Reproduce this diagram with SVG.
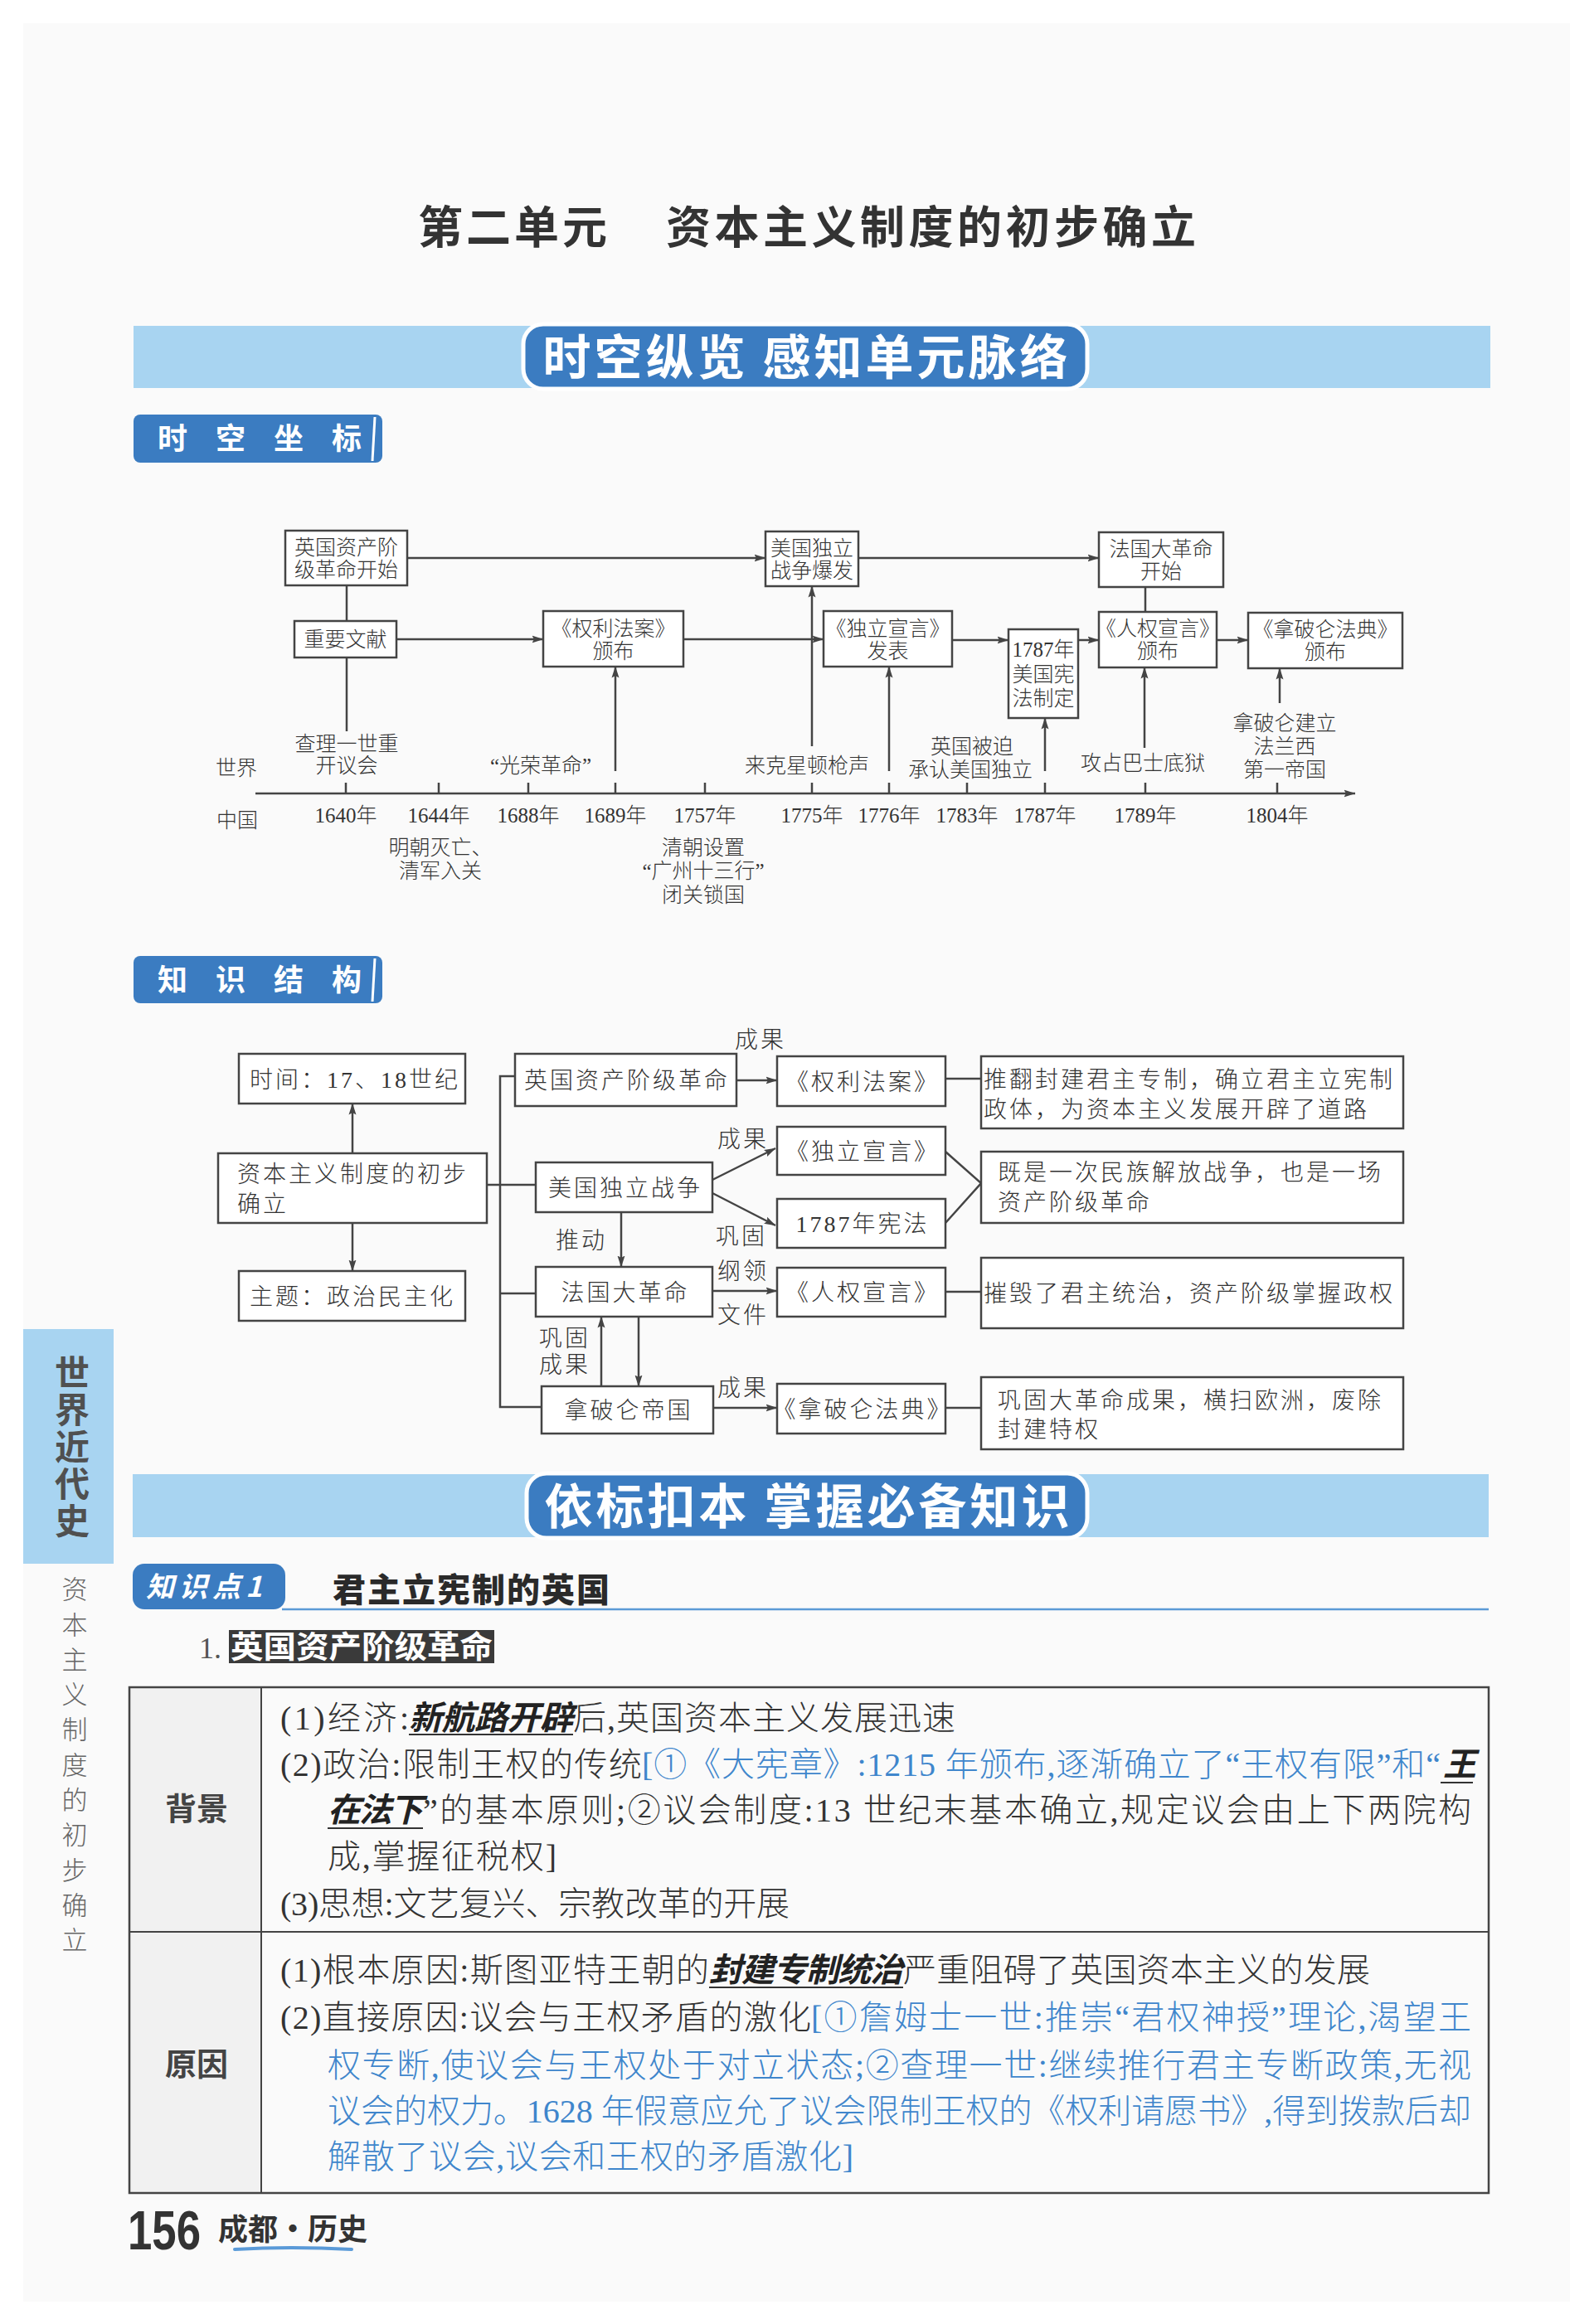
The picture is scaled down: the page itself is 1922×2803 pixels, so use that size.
<svg xmlns="http://www.w3.org/2000/svg" width="1922" height="2803" viewBox="0 0 1922 2803">
<defs>
<style>
.s{font-family:'Liberation Serif','Noto Sans CJK SC',serif;fill:#333;font-weight:300}
.h{font-family:'Noto Sans CJK SC','Liberation Sans',sans-serif}
.tl{font-size:25px;text-anchor:middle}
.ks{font-size:28px;letter-spacing:3px}
.kc{font-size:28px;letter-spacing:3px;text-anchor:middle}
.bd{font-size:40px}
.bl{fill:#3f86cc}
.em{font-weight:bold;fill:#222}
.box{fill:#fff;stroke:#444;stroke-width:2.5}
.ln{fill:none;stroke:#444;stroke-width:2.5}
.ul{fill:none;stroke:#333;stroke-width:2}
.strip{fill:#a8d4f1}
.tab{fill:#3b7cc1}
.wt{fill:#fff;font-weight:bold}
</style>
<marker id="ah" markerWidth="14" markerHeight="10" refX="13.5" refY="5" orient="auto" markerUnits="userSpaceOnUse">
<path d="M0,0.5 L14,5 L0,9.5 L2.5,5 z" fill="#444"/>
</marker>
</defs>

<rect x="0" y="0" width="1922" height="2803" fill="#ffffff"/>
<rect x="28" y="28" width="1865" height="2748" fill="#fafafa"/>

<!-- Title -->
<g id="title">
<text class="h" x="504" y="294" font-size="54" font-weight="bold" letter-spacing="4" fill="#333">第二单元</text>
<text class="h" x="803" y="294" font-size="54" font-weight="bold" letter-spacing="4.5" fill="#333">资本主义制度的初步确立</text>
</g>

<!-- Banner 1 -->
<g id="banner1">
<rect class="strip" x="161" y="393" width="1636" height="75"/>
<rect class="tab" x="631" y="391" width="680" height="78" rx="24" stroke="#fff" stroke-width="5"/>
<text class="h wt" x="973" y="452" font-size="58" text-anchor="middle" letter-spacing="4">时空纵览 感知单元脉络</text>
</g>

<g id="label-shikong">
<rect class="tab" x="161" y="500" width="300" height="58" rx="8"/>
<line x1="452" y1="503" x2="449" y2="556" stroke="#fff" stroke-width="3"/>
<text class="h wt" x="190" y="542" font-size="36" letter-spacing="34">时空坐标</text>
</g>

<!-- Timeline connectors -->
<g id="timeline-connectors">
<line class="ln" x1="308" y1="957" x2="1634" y2="957" marker-end="url(#ah)"/>
<path class="ln" d="M417,944V957 M529,944V957 M637,944V957 M742,944V957 M850,944V957 M979,944V957 M1072,944V957 M1166,944V957 M1260,944V957 M1381,944V957 M1540,944V957"/>
<line class="ln" x1="491" y1="673" x2="923" y2="673" marker-end="url(#ah)"/>
<line class="ln" x1="1035" y1="673" x2="1325" y2="673" marker-end="url(#ah)"/>
<line class="ln" x1="478" y1="771" x2="655" y2="771" marker-end="url(#ah)"/>
<line class="ln" x1="824" y1="771" x2="993" y2="771" marker-end="url(#ah)"/>
<line class="ln" x1="1148" y1="772" x2="1216" y2="772" marker-end="url(#ah)"/>
<line class="ln" x1="1300" y1="772" x2="1325" y2="772" marker-end="url(#ah)"/>
<line class="ln" x1="1467" y1="772" x2="1505" y2="772" marker-end="url(#ah)"/>
<line class="ln" x1="418" y1="706" x2="418" y2="749"/>
<line class="ln" x1="418" y1="793" x2="418" y2="882"/>
<line class="ln" x1="1381" y1="708" x2="1381" y2="738"/>
<line class="ln" x1="742" y1="930" x2="742" y2="804" marker-end="url(#ah)"/>
<line class="ln" x1="979" y1="900" x2="979" y2="707" marker-end="url(#ah)"/>
<line class="ln" x1="1072" y1="930" x2="1072" y2="804" marker-end="url(#ah)"/>
<line class="ln" x1="1260" y1="930" x2="1260" y2="866" marker-end="url(#ah)"/>
<line class="ln" x1="1380" y1="902" x2="1380" y2="805" marker-end="url(#ah)"/>
<line class="ln" x1="1543" y1="848" x2="1543" y2="806" marker-end="url(#ah)"/>
</g>

<!-- Timeline nodes -->
<g id="tl-eng-rev">
<rect class="box" x="344" y="640" width="147" height="66"/>
<text class="s tl" x="417.5" y="669">英国资产阶</text>
<text class="s tl" x="417.5" y="696">级革命开始</text>
</g>
<g id="tl-us-war">
<rect class="box" x="923" y="641" width="112" height="66"/>
<text class="s tl" x="979" y="670">美国独立</text>
<text class="s tl" x="979" y="697">战争爆发</text>
</g>
<g id="tl-fr-rev">
<rect class="box" x="1325" y="642" width="150" height="66"/>
<text class="s tl" x="1400" y="671">法国大革命</text>
<text class="s tl" x="1400" y="698">开始</text>
</g>
<g id="tl-docs">
<rect class="box" x="355" y="749" width="123" height="44"/>
<text class="s tl" x="416.5" y="780">重要文献</text>
</g>
<g id="tl-bill">
<rect class="box" x="655" y="737" width="169" height="67"/>
<text class="s tl" x="739.5" y="767">《权利法案》</text>
<text class="s tl" x="739.5" y="794">颁布</text>
</g>
<g id="tl-decl">
<rect class="box" x="993" y="737" width="155" height="67"/>
<text class="s tl" x="1070.5" y="767">《独立宣言》</text>
<text class="s tl" x="1070.5" y="794">发表</text>
</g>
<g id="tl-const">
<rect class="box" x="1216" y="759" width="84" height="107"/>
<text class="s tl" x="1258" y="792">1787年</text>
<text class="s tl" x="1258" y="822">美国宪</text>
<text class="s tl" x="1258" y="851">法制定</text>
</g>
<g id="tl-rights">
<rect class="box" x="1325" y="738" width="142" height="67"/>
<text class="s tl" x="1396" y="767">《人权宣言》</text>
<text class="s tl" x="1396" y="794">颁布</text>
</g>
<g id="tl-code">
<rect class="box" x="1505" y="739" width="186" height="67"/>
<text class="s tl" x="1598" y="768">《拿破仑法典》</text>
<text class="s tl" x="1598" y="795">颁布</text>
</g>

<g id="tl-labels">
<text class="s tl" x="285" y="935">世界</text>
<text class="s tl" x="286" y="998">中国</text>
<text class="s tl" x="418" y="906">查理一世重</text>
<text class="s tl" x="418" y="932">开议会</text>
<text class="s tl" x="652" y="932">“光荣革命”</text>
<text class="s tl" x="973" y="932">来克星顿枪声</text>
<text class="s tl" x="1172" y="909">英国被迫</text>
<text class="s tl" x="1170" y="937">承认美国独立</text>
<text class="s tl" x="1378" y="929">攻占巴士底狱</text>
<text class="s tl" x="1549" y="881">拿破仑建立</text>
<text class="s tl" x="1549" y="909">法兰西</text>
<text class="s tl" x="1549" y="937">第一帝国</text>
<text class="s tl" x="417" y="992">1640年</text>
<text class="s tl" x="529" y="992">1644年</text>
<text class="s tl" x="637" y="992">1688年</text>
<text class="s tl" x="742" y="992">1689年</text>
<text class="s tl" x="850" y="992">1757年</text>
<text class="s tl" x="979" y="992">1775年</text>
<text class="s tl" x="1072" y="992">1776年</text>
<text class="s tl" x="1166" y="992">1783年</text>
<text class="s tl" x="1260" y="992">1787年</text>
<text class="s tl" x="1381" y="992">1789年</text>
<text class="s tl" x="1540" y="992">1804年</text>
<text class="s tl" x="531" y="1031">明朝灭亡、</text>
<text class="s tl" x="531" y="1059">清军入关</text>
<text class="s tl" x="848" y="1031">清朝设置</text>
<text class="s tl" x="848" y="1059">“广州十三行”</text>
<text class="s tl" x="848" y="1088">闭关锁国</text>
</g>

<g id="label-zhishi">
<rect class="tab" x="161" y="1153" width="300" height="57" rx="8"/>
<line x1="452" y1="1156" x2="449" y2="1208" stroke="#fff" stroke-width="3"/>
<text class="h wt" x="190" y="1195" font-size="36" letter-spacing="34">知识结构</text>
</g>

<!-- Knowledge structure connectors -->
<g id="ks-connectors">
<line class="ln" x1="425" y1="1391" x2="425" y2="1331" marker-end="url(#ah)"/>
<line class="ln" x1="425" y1="1475" x2="425" y2="1533" marker-end="url(#ah)"/>
<path class="ln" d="M621,1298H603V1697H653 M587,1429H646 M603,1560H646"/>
<line class="ln" x1="749" y1="1462" x2="749" y2="1528" marker-end="url(#ah)"/>
<line class="ln" x1="725" y1="1672" x2="725" y2="1588" marker-end="url(#ah)"/>
<line class="ln" x1="770" y1="1588" x2="770" y2="1672" marker-end="url(#ah)"/>
<line class="ln" x1="888" y1="1303" x2="937" y2="1303" marker-end="url(#ah)"/>
<line class="ln" x1="859" y1="1423" x2="935" y2="1385" marker-end="url(#ah)"/>
<line class="ln" x1="859" y1="1439" x2="935" y2="1478" marker-end="url(#ah)"/>
<line class="ln" x1="859" y1="1557" x2="937" y2="1557" marker-end="url(#ah)"/>
<line class="ln" x1="860" y1="1698" x2="937" y2="1698" marker-end="url(#ah)"/>
<path class="ln" d="M1140,1301H1183 M1140,1389L1183,1427L1140,1475 M1140,1558H1183 M1140,1698H1183"/>
<text class="s kc" x="917" y="1264">成果</text>
<text class="s kc" x="896" y="1384">成果</text>
<text class="s kc" x="894" y="1501">巩固</text>
<text class="s kc" x="896" y="1543">纲领</text>
<text class="s kc" x="896" y="1596">文件</text>
<text class="s kc" x="896" y="1684">成果</text>
<text class="s kc" x="701" y="1506">推动</text>
<text class="s kc" x="681" y="1624">巩固</text>
<text class="s kc" x="681" y="1656">成果</text>
</g>

<!-- Knowledge structure nodes -->
<g id="ks-time">
<rect class="box" x="288" y="1271" width="273" height="60"/>
<text class="s ks" x="301" y="1312">时间：17、18世纪</text>
</g>
<g id="ks-main">
<rect class="box" x="263" y="1391" width="324" height="84"/>
<text class="s ks" x="286" y="1426">资本主义制度的初步</text>
<text class="s ks" x="286" y="1462">确立</text>
</g>
<g id="ks-theme">
<rect class="box" x="288" y="1533" width="273" height="60"/>
<text class="s ks" x="301" y="1574">主题：政治民主化</text>
</g>
<g id="ks-eng">
<rect class="box" x="621" y="1271" width="267" height="63"/>
<text class="s kc" x="756" y="1313">英国资产阶级革命</text>
</g>
<g id="ks-us">
<rect class="box" x="646" y="1402" width="213" height="60"/>
<text class="s kc" x="754" y="1443">美国独立战争</text>
</g>
<g id="ks-fr">
<rect class="box" x="646" y="1528" width="213" height="60"/>
<text class="s kc" x="754" y="1569">法国大革命</text>
</g>
<g id="ks-nap">
<rect class="box" x="653" y="1672" width="207" height="57"/>
<text class="s kc" x="758" y="1711">拿破仑帝国</text>
</g>
<g id="ks-bill">
<rect class="box" x="937" y="1274" width="203" height="60"/>
<text class="s kc" x="1040" y="1315">《权利法案》</text>
</g>
<g id="ks-decl">
<rect class="box" x="937" y="1359" width="203" height="58"/>
<text class="s kc" x="1040" y="1399">《独立宣言》</text>
</g>
<g id="ks-const">
<rect class="box" x="937" y="1446" width="203" height="59"/>
<text class="s kc" x="1040" y="1486">1787年宪法</text>
</g>
<g id="ks-rights">
<rect class="box" x="937" y="1529" width="203" height="59"/>
<text class="s kc" x="1040" y="1569">《人权宣言》</text>
</g>
<g id="ks-code">
<rect class="box" x="937" y="1669" width="203" height="60"/>
<text class="s kc" x="1040" y="1710">《拿破仑法典》</text>
</g>
<g id="ks-r1">
<rect class="box" x="1183" y="1274" width="509" height="87"/>
<text class="s ks" x="1186" y="1312">推翻封建君主专制，确立君主立宪制</text>
<text class="s ks" x="1186" y="1348">政体，为资本主义发展开辟了道路</text>
</g>
<g id="ks-r2">
<rect class="box" x="1183" y="1389" width="509" height="86"/>
<text class="s ks" x="1203" y="1424">既是一次民族解放战争，也是一场</text>
<text class="s ks" x="1203" y="1460">资产阶级革命</text>
</g>
<g id="ks-r3">
<rect class="box" x="1183" y="1517" width="509" height="85"/>
<text class="s ks" x="1186" y="1570">摧毁了君主统治，资产阶级掌握政权</text>
</g>
<g id="ks-r4">
<rect class="box" x="1183" y="1661" width="509" height="87"/>
<text class="s ks" x="1203" y="1699">巩固大革命成果，横扫欧洲，废除</text>
<text class="s ks" x="1203" y="1734">封建特权</text>
</g>

<!-- Side tab -->
<g id="side-tab">
<rect class="strip" x="28" y="1603" width="109" height="283"/>
<text class="h" x="87" y="1634" writing-mode="vertical-rl" font-size="42" font-weight="bold" letter-spacing="2.8" fill="#505050">世界近代史</text>
<text class="h" x="90" y="1901" writing-mode="vertical-rl" font-size="31" font-weight="300" letter-spacing="11.3" fill="#666">资本主义制度的初步确立</text>
</g>

<!-- Banner 2 -->
<g id="banner2">
<rect class="strip" x="160" y="1778" width="1635" height="76"/>
<rect class="tab" x="635" y="1777" width="676" height="78" rx="24" stroke="#fff" stroke-width="5"/>
<text class="h wt" x="975" y="1838" font-size="58" text-anchor="middle" letter-spacing="4">依标扣本 掌握必备知识</text>
</g>

<g id="kp1">
<line x1="340" y1="1941" x2="1795" y2="1941" stroke="#5b9ad6" stroke-width="2.5"/>
<rect class="tab" x="160" y="1886" width="184" height="55" rx="14"/>
<text class="h wt" x="176" y="1926" font-size="34" font-style="italic" letter-spacing="6">知识点1</text>
<text x="401" y="1932" font-family="'Liberation Serif','Noto Sans CJK SC',serif" font-size="40" letter-spacing="2" style="font-weight:900;fill:#2a2a2a">君主立宪制的英国</text>
</g>

<g id="sub1">
<text x="240" y="2000" font-family="'Liberation Serif',serif" font-size="36" style="fill:#555">1.</text>
<rect x="276" y="1966" width="320" height="40" fill="#3a3a3a"/>
<text x="278" y="2000" font-family="'Liberation Serif','Noto Sans CJK SC',serif" font-size="37" textLength="316" lengthAdjust="spacingAndGlyphs" style="font-weight:bold;fill:#fff">英国资产阶级革命</text>
</g>

<!-- Table -->
<g id="table">
<rect x="156" y="2035" width="159" height="610" fill="#f1f1f1"/>
<rect x="156" y="2035" width="1639" height="610" fill="none" stroke="#444" stroke-width="2.5"/>
<line x1="315" y1="2035" x2="315" y2="2645" stroke="#444" stroke-width="2"/>
<line x1="156" y1="2330" x2="1795" y2="2330" stroke="#444" stroke-width="2"/>
<text class="h" x="237" y="2195" font-size="38" font-weight="bold" fill="#444" text-anchor="middle">背景</text>
<text class="h" x="237" y="2503" font-size="38" font-weight="bold" fill="#444" text-anchor="middle">原因</text>
</g>

<g id="row-bg">
<text class="s bd" x="338" y="2086" textLength="155" lengthAdjust="spacing">(1)经济:</text>
<text class="s bd em" x="493" y="2086" textLength="198" lengthAdjust="spacing" font-style="italic">新航路开辟</text>
<line class="ul" x1="493" y1="2092" x2="691" y2="2092"/>
<text class="s bd" x="691" y="2086" textLength="461" lengthAdjust="spacing">后,英国资本主义发展迅速</text>

<text class="s bd" x="338" y="2142" textLength="436" lengthAdjust="spacing">(2)政治:限制王权的传统</text>
<text class="s bd bl" x="774" y="2142" textLength="963" lengthAdjust="spacing">[①《大宪章》:1215 年颁布,逐渐确立了“王权有限”和“</text>
<text class="s bd em" x="1740" y="2142" font-style="italic">王</text>
<line class="ul" x1="1737" y1="2150" x2="1776" y2="2150"/>

<text class="s bd em" x="395" y="2197" textLength="115" lengthAdjust="spacing" font-style="italic">在法下</text>
<line class="ul" x1="395" y1="2205" x2="510" y2="2205"/>
<text class="s bd" x="510" y="2197" textLength="1264" lengthAdjust="spacing">”的基本原则;②议会制度:13 世纪末基本确立,规定议会由上下两院构</text>

<text class="s bd" x="395" y="2253" textLength="276" lengthAdjust="spacing">成,掌握征税权]</text>

<text class="s bd" x="338" y="2310" textLength="614" lengthAdjust="spacing">(3)思想:文艺复兴、宗教改革的开展</text>
</g>

<g id="row-cause">
<text class="s bd" x="338" y="2390" textLength="517" lengthAdjust="spacing">(1)根本原因:斯图亚特王朝的</text>
<text class="s bd em" x="855" y="2390" textLength="234" lengthAdjust="spacing" font-style="italic">封建专制统治</text>
<line class="ul" x1="855" y1="2397" x2="1089" y2="2397"/>
<text class="s bd" x="1089" y="2390" textLength="563" lengthAdjust="spacing">严重阻碍了英国资本主义的发展</text>

<text class="s bd" x="338" y="2447" textLength="640" lengthAdjust="spacing">(2)直接原因:议会与王权矛盾的激化</text>
<text class="s bd bl" x="978" y="2447" textLength="796" lengthAdjust="spacing">[①詹姆士一世:推崇“君权神授”理论,渴望王</text>
<text class="s bd bl" x="395" y="2505" textLength="1379" lengthAdjust="spacing">权专断,使议会与王权处于对立状态;②查理一世:继续推行君主专断政策,无视</text>
<text class="s bd bl" x="395" y="2560" textLength="1379" lengthAdjust="spacing">议会的权力。1628 年假意应允了议会限制王权的《权利请愿书》,得到拨款后却</text>
<text class="s bd bl" x="395" y="2615" textLength="634" lengthAdjust="spacing">解散了议会,议会和王权的矛盾激化]</text>
</g>

<!-- Footer -->
<g id="footer">
<text x="154" y="2713" font-family="'Liberation Sans',sans-serif" font-size="66" font-weight="bold" fill="#333" textLength="88" lengthAdjust="spacingAndGlyphs">156</text>
<text class="h" x="263" y="2702" font-size="36" font-weight="bold" fill="#333">成都·历史</text>
<path d="M283,2713 Q350,2709 424,2713" fill="none" stroke="#5a9ad8" stroke-width="4" stroke-linecap="round"/>
</g>
</svg>
